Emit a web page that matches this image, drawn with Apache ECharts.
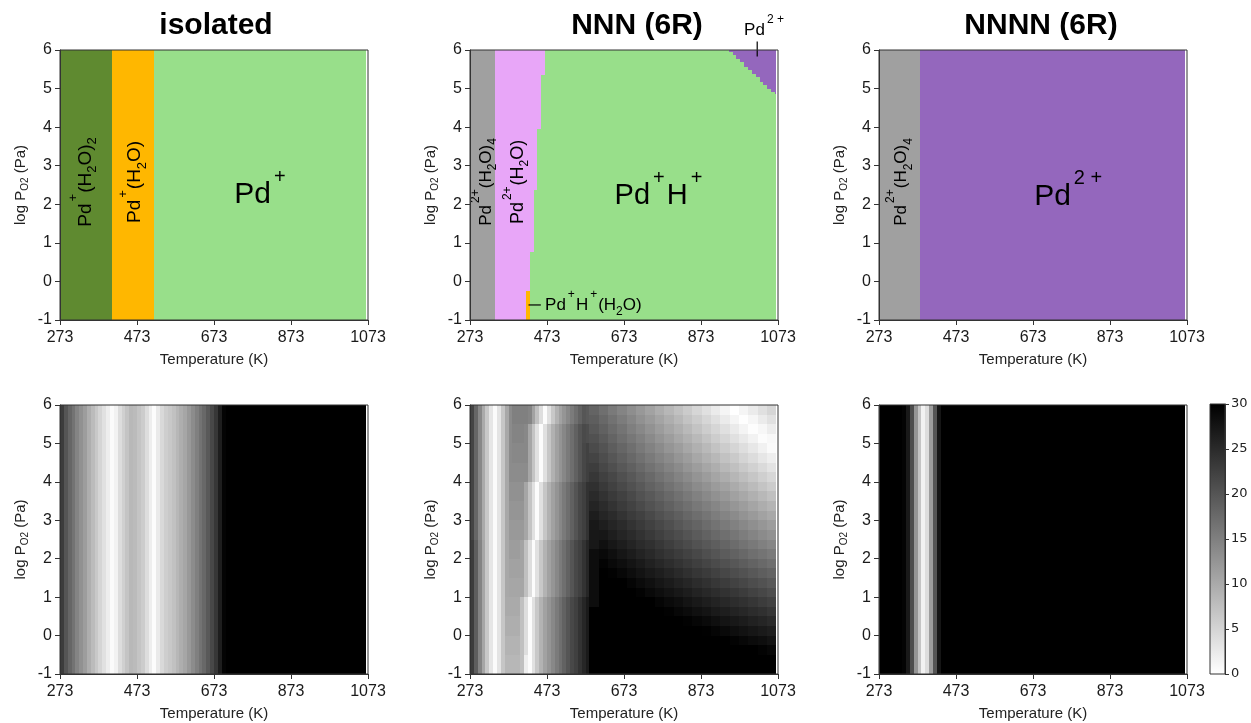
<!DOCTYPE html>
<html>
<head>
<meta charset="utf-8">
<script src="https://cdn.jsdelivr.net/npm/echarts@6/dist/echarts.min.js"></script>
<style>
  html, body { margin: 0; padding: 0; background: #fff; }
  #chart { width: 1251px; height: 723px; }
</style>
</head>
<body>
<div id="chart"></div>
<script>
// ---------- axes ----------
const tempTicks = [273, 473, 673, 873, 1073];          // Temperature (K)
const logPTicks = [-1, 0, 1, 2, 3, 4, 5, 6];            // log P_O2 (Pa)
const gapTicks  = [0, 5, 10, 15, 20, 25, 30];           // colour bar

// ---------- phase diagrams: [T from, T to, logP from, logP to, phase] ----------
const isolatedRegions = [
  [273, 408, -1, 6, 'PdH2O2'],
  [408, 518, -1, 6, 'PdH2O'],
  [518, 1069, -1, 6, 'Pd']
];
const nnnRegions = [
  [273, 339, -1, 6, 'Pd2H2O4'],
  [339, 419, -1, -0.25, 'Pd2H2O'],
  [419, 429, -1, -0.25, 'PdHH2O'],
  [339, 429, -0.25, 0.76, 'Pd2H2O'],
  [339, 439, 0.76, 2.36, 'Pd2H2O'],
  [339, 448, 2.36, 3.95, 'Pd2H2O'],
  [339, 458, 3.95, 5.34, 'Pd2H2O'],
  [339, 469, 5.34, 6, 'Pd2H2O'],
  [429, 1069, -1, 0.76, 'PdH'],
  [439, 1069, 0.76, 2.36, 'PdH'],
  [448, 1069, 2.36, 3.95, 'PdH'],
  [458, 1069, 3.95, 5.34, 'PdH'],
  [469, 1069, 5.34, 6, 'PdH']
];
// Pd2+ corner of the NNN diagram: column edges and lower boundary of each column
const nnnPd2Edges = [945, 955, 965, 975, 985, 995, 1005, 1015, 1025, 1035, 1045, 1055, 1065, 1069];
const nnnPd2Floor = [5.96, 5.87, 5.77, 5.68, 5.57, 5.48, 5.38, 5.29, 5.18, 5.09, 4.99, 4.90, 4.85];
const nnnnRegions = [
  [273, 379, -1, 6, 'Pd2H2O4'],
  [379, 1069, -1, 6, 'Pd2']
];

const phaseColors = {
  PdH2O2: '#5f8a30',
  PdH2O: '#ffb700',
  Pd: '#98df8a',
  PdH: '#98df8a',
  PdHH2O: '#ffb700',
  Pd2H2O4: '#a0a0a0',
  Pd2H2O: '#e8a6f8',
  Pd2: '#9467bd'
};

// ---------- energy gap maps (0 = white, 30 = black) ----------
// vertical strips: column edges in K, one gap value per column
const stripEdges = [273, 283, 293, 303, 313, 323, 333, 343, 353, 363, 373, 383, 393, 403, 413,
  423, 433, 443, 453, 463, 473, 483, 493, 503, 513, 523, 533, 543, 553, 563, 573, 583, 593,
  603, 613, 623, 633, 643, 653, 663, 673, 683, 693, 703, 1069];
const isolatedGap = [23, 20, 18, 16.5, 14.5, 13, 11.5, 9.5, 8, 6.5, 5, 3.5, 2, 0.5, 1.5, 4, 5.5,
  7, 8.4, 8, 7, 6, 4, 2, 0.4, 2.5, 4.5, 5.8, 6.5, 7.3, 8.5, 9.5, 10.5, 12, 13.5, 15, 16.5, 17.8,
  19.5, 21.5, 23.5, 26.5, 29.5, 30];
const nnnnGap = [30, 30, 30, 30, 30, 30, 29.5, 27, 21, 12.5, 7, 1.5, 4, 11.5, 20, 27.5,
  30, 30, 30, 30, 30, 30, 30, 30, 30, 30, 30, 30, 30, 30, 30, 30, 30, 30, 30, 30, 30, 30, 30,
  30, 30, 30, 30, 30];

// NNN map, low-temperature part (273-583 K): rows from log P = -1 upwards
const nnnLeftCols = [273, 283, 293, 303, 313, 323, 333, 343, 353, 363, 373, 383, 393, 403, 413,
  423, 433, 443, 453, 463, 473, 483, 493, 503, 513, 523, 533, 543, 553, 563, 573, 583];
const nnnLeftRows = [-1, -0.5, 0, 0.5, 1, 1.5, 2, 2.5, 3, 3.5, 4, 4.5, 5, 5.5, 6];
const nnnLeftGap = [
  [23,19,14.5,10.5,6.5,3,0.5, 3.2,6.7,8.5,8.5,8.5,8.5,7.4,2,0.4, 3.5,6.5,9,11,12.5,14,15.5,17,18.5,20,21.5,22.5,24,25.5,27],
  [23,19,14.5,10.5,6.5,3,0.5, 3.2,6.7,9,9,9,9,7.4,3.9,0.4, 3.5,6.5,9,11,12.5,14,15.5,17,18.5,20,21.5,22.5,24,25.5,27],
  [23,19,14.5,10.5,6.5,3,0.5, 3.2,6.7,9.5,9.5,9.5,9.5,7.4,3.9,0.4, 3.5,6.5,9,11,12.5,14,15.5,17,18.5,20,21.5,22.5,24,25.5,27],
  [23,19,14.5,10.5,6.5,3,0.5, 3.2,6.7,10,10,10,10,7.4,3.9,0.4, 3.5,6.5,9,11,12.5,14,15.5,17,18.5,20,21.5,22.5,24,25.5,27],
  [23,19,14.5,10.5,6.5,3,0.5, 3.2,6.7,10.2,10.5,10.5,10.5,10.5,7.4,3.9,0.4, 3.5,6.5,9,11,12.5,14,15.5,17,18.5,20,21.5,22.5,24,25.5],
  [23,19,14.5,10.5,6.5,3,0.5, 3.2,6.7,10.2,11,11,11,10.8,7.4,3.9,0.4, 3.5,6.5,9,11,12.5,14,15.5,17,18.5,20,21.5,22.5,24,25.5],
  [23,19,14.5,10.5,6.5,3,0.5, 3.2,6.7,10.2,11.5,11.5,11.5,10.8,7.4,3.9,0.4, 3.5,6.5,9,11,12.5,14,15.5,17,18.5,20,21.5,22.5,24,25.5],
  [22,18,14,10,6.5,3,0.5, 3.2,6.7,10.2,12,12,12,12,10.5,7,3.5,0.4, 3.7,6.7,9.2,11.1,12.6,14.1,15.6,17.1,18.6,20.1,21.6,22.6,24.1],
  [22,18,14,10,6.5,3,0.5, 3.2,6.7,10.2,12.5,12.5,12.5,12.5,10.5,7,3.5,0.4, 3.7,6.7,9.2,11.1,12.6,14.1,15.6,17.1,18.6,20.1,21.6,22.6,24.1],
  [22,18,14,10,6.5,3,0.5, 3.2,6.7,10.2,13,13,13,13,10.5,7,3.5,0.4, 3.7,6.7,9.2,11.1,12.6,14.1,15.6,17.1,18.6,20.1,21.6,22.6,24.1],
  [22,18,14,10,6.5,3,0.5, 3.2,6.7,10.2,13.5,13.5,13.5,13.5,13.5,10.5,7,3.5,0.4, 3.7,6.7,9.2,11.1,12.6,14.1,15.6,17.1,18.6,20.1,21.6,22.6],
  [22,18,14,10,6.5,3,0.5, 3.2,6.7,10.2,13.7,14,14,14,14,10.5,7,3.5,0.4, 3.7,6.7,9.2,11.1,12.6,14.1,15.6,17.1,18.6,20.1,21.6,22.4],
  [22,18,14,10,6.5,3,0.5, 3.2,6.7,10.2,13.7,14.5,14.5,14.5,14,10.5,7,3.5,0.4, 3.7,6.7,9.2,11.1,12.6,14.1,15.6,17.1,18.6,20.1,21.3,20.9],
  [22,18,14,10,6.5,3,0.5, 3.2,6.7,10.2,13.7,15,15,15,15,14.4,10.9,7.4,3.9,0.4, 3.5,6.5,9,11,12.5,14,15.5,17,18.5,19.9,19.4]
];
// NNN map, high-temperature part (583-1069 K): rows from log P = -1 upwards
const nnnRightCols = [583, 607.3, 631.6, 655.9, 680.2, 704.5, 728.8, 753.1, 777.4, 801.7, 826,
  850.3, 874.6, 898.9, 923.2, 947.5, 971.8, 996.1, 1020.4, 1044.7, 1069];
const nnnRightRows = [-1, -0.75, -0.5, -0.25, 0, 0.25, 0.5, 0.75, 1, 1.25, 1.5, 1.75, 2, 2.25,
  2.5, 2.75, 3, 3.25, 3.5, 3.75, 4, 4.25, 4.5, 4.75, 5, 5.25, 5.5, 5.75, 6];
const nnnRightGap = [
  [30,30,30,30,30,30,30,30,30,30,30,30,30,30,30,30,30,30,30,30],
  [30,30,30,30,30,30,30,30,30,30,30,30,30,30,30,30,30,30,30,30],
  [30,30,30,30,30,30,30,30,30,30,30,30,30,30,30,30,30,30,29.6,29.2],
  [30,30,30,30,30,30,30,30,30,30,30,30,30,30,30,29.7,29.2,28.7,28.3,27.8],
  [30,30,30,30,30,30,30,30,30,30,30,30,29.9,29.4,28.9,28.4,27.9,27.4,27.0,26.5],
  [30,30,30,30,30,30,30,30,30,30,29.8,29.3,28.8,28.2,27.7,27.2,26.7,26.1,25.6,25.1],
  [30,30,30,30,30,30,30,30,29.8,29.2,28.7,28.1,27.6,27.0,26.5,25.9,25.4,24.8,24.3,23.7],
  [28.5,30,30,30,30,30,30,29.4,28.8,28.3,27.7,27.1,26.5,25.9,25.3,24.7,24.2,23.6,23.0,22.4],
  [28.5,30,30,30,30,29.6,29.0,28.4,27.8,27.2,26.6,25.9,25.3,24.7,24.1,23.5,22.9,22.2,21.6,21.0],
  [28.5,30,30,30,29.4,28.7,28.1,27.4,26.8,26.1,25.5,24.8,24.2,23.5,22.9,22.2,21.6,20.9,20.3,19.7],
  [28.5,30,29.8,29.2,28.5,27.8,27.1,26.5,25.8,25.1,24.4,23.7,23.1,22.4,21.7,21.0,20.3,19.7,19.0,18.3],
  [28.5,29.7,29.0,28.3,27.6,26.9,26.1,25.4,24.7,24.0,23.3,22.6,21.9,21.2,20.5,19.8,19.1,18.4,17.6,16.9],
  [28.5,28.9,28.2,27.4,26.7,25.9,25.2,24.4,23.7,23.0,22.2,21.5,20.7,20.0,19.2,18.5,17.8,17.0,16.3,15.6],
  [27.2,28.1,27.3,26.6,25.8,25.0,24.3,23.5,22.7,21.9,21.2,20.4,19.6,18.9,18.1,17.3,16.5,15.8,15.0,14.2],
  [27.2,27.3,26.5,25.7,24.9,24.1,23.3,22.5,21.7,20.9,20.1,19.3,18.5,17.7,16.9,16.1,15.3,14.5,13.7,12.9],
  [27.2,26.5,25.7,24.9,24.0,23.2,22.4,21.5,20.7,19.8,19.0,18.2,17.3,16.5,15.7,14.8,14.0,13.2,12.3,11.5],
  [26.6,25.7,24.9,24.0,23.1,22.3,21.4,20.5,19.7,18.8,17.9,17.1,16.2,15.3,14.5,13.6,12.7,11.9,11.0,10.1],
  [25.8,24.9,24.0,23.1,22.2,21.3,20.4,19.5,18.6,17.7,16.8,15.9,15.1,14.2,13.3,12.4,11.5,10.6,9.7,8.8],
  [25.1,24.1,23.2,22.3,21.4,20.4,19.5,18.6,17.6,16.7,15.8,14.8,13.9,13.0,12.1,11.1,10.2,9.3,8.3,7.4],
  [24.3,23.3,22.4,21.4,20.5,19.5,18.5,17.6,16.6,15.7,14.7,13.7,12.8,11.8,10.9,9.9,8.9,8.0,7.0,6.0],
  [23.5,22.5,21.6,20.6,19.6,18.6,17.6,16.6,15.6,14.6,13.6,12.6,11.6,10.6,9.6,8.6,7.6,6.7,5.7,4.7],
  [22.8,21.7,20.7,19.7,18.7,17.7,16.6,15.6,14.6,13.6,12.5,11.5,10.5,9.5,8.4,7.4,6.4,5.4,4.3,3.3],
  [22.0,20.9,19.9,18.8,17.8,16.7,15.7,14.6,13.6,12.5,11.5,10.4,9.3,8.3,7.2,6.2,5.1,4.1,3.0,2.0],
  [21.2,20.2,19.1,18.0,16.9,15.8,14.7,13.6,12.5,11.5,10.4,9.3,8.2,7.1,6.0,4.9,3.9,2.8,1.7,0.6],
  [20.5,19.4,18.2,17.1,16.0,14.9,13.8,12.6,11.5,10.4,9.3,8.2,7.1,5.9,4.8,3.7,2.6,1.5,0.4,0.8],
  [19.7,18.6,17.4,16.3,15.1,14.0,12.8,11.7,10.5,9.4,8.2,7.1,5.9,4.8,3.6,2.5,1.3,0.2,1.0,2.1],
  [18.9,17.8,16.6,15.4,14.2,13.0,11.9,10.7,9.5,8.3,7.1,6.0,4.8,3.6,2.4,1.2,0.1,1.1,2.3,3.5],
  [18.2,17.0,15.7,14.5,13.3,12.1,10.9,9.7,8.5,7.3,6.1,4.8,3.6,2.4,1.2,0.0,1.2,2.4,3.6,4.8]
];

// ---------- region labels (anchored in T / log P) ----------
const isolatedLabels = [
  { at: [339, 2.58], kind: 'tall', text: '{m|Pd}{sup|+}{m|(H}{sub|2}{m|O)}{sub|2}' },
  { at: [467, 2.58], kind: 'tall', text: '{m|Pd}{sup|+}{m|(H}{sub|2}{m|O)}' },
  { at: [795, 2.24], kind: 'big',  text: '{m|Pd}{sup|+}' }
];
const nnnLabels = [
  { at: [315, 2.58], kind: 'tallS', text: '{m|Pd}{sup|2+}{m|(H}{sub|2}{m|O)}{sub|4}' },
  { at: [398, 2.58], kind: 'tallM', text: '{m|Pd}{sup|2+}{m|(H}{sub|2}{m|O)}' },
  { at: [765, 2.21], kind: 'bigS',  text: '{m|Pd}{sup|+}{m|H}{sup|+}' },
  { at: [468, -0.61], kind: 'note', text: '{m|Pd}{sup|+}{m|H}{sup|+}{m|(H}{sub|2}{m|O)}' },
  { at: [1038, 6.52], kind: 'noteC', text: '{m|Pd}{sup|2 +}' }
];
const nnnLeaders = [
  [[425, -0.61], [457, -0.61]],
  [[1019, 6.22], [1019, 5.83]]
];
const nnnnLabels = [
  { at: [331, 2.58], kind: 'tallS', text: '{m|Pd}{sup|2+}{m|(H}{sub|2}{m|O)}{sub|4}' },
  { at: [767, 2.2],  kind: 'big',   text: '{m|Pd}{sup|2 +}' }
];

const panelTitles = ['isolated', 'NNN (6R)', 'NNNN (6R)'];

// ---------- styling ----------
const FONT = 'Liberation Sans';
const INK = '#1a1a1a';
const FRAME = '#333';
const labelKinds = {
  tall:  { size: 19, rotate: 90, align: 'center' },
  tallM: { size: 18, rotate: 90, align: 'center' },
  tallS: { size: 17, rotate: 90, align: 'center' },
  big:   { size: 30, rotate: 0, align: 'center' },
  bigS:  { size: 29, rotate: 0, align: 'center' },
  note:  { size: 17, rotate: 0, align: 'left' },
  noteC: { size: 17, rotate: 0, align: 'center' }
};
function richFor(size) {
  const s = Math.round(size * 0.68);
  return {
    m:   { fontSize: size, fontFamily: FONT, lineHeight: Math.round(size * 1.8), fill: '#000' },
    sup: { fontSize: s, fontFamily: FONT, height: Math.round(size * 0.6), verticalAlign: 'top', fill: '#000',
           padding: [0, Math.round(size * 0.06), 0, Math.round(size * 0.1)] },
    sub: { fontSize: s, fontFamily: FONT, height: Math.round(size * 1.0), verticalAlign: 'bottom', fill: '#000' }
  };
}

// panel frames (px)
const panelBoxes = [
  { left: 60,  top: 50,  width: 308, height: 270 },
  { left: 470, top: 50,  width: 308, height: 270 },
  { left: 879, top: 50,  width: 308, height: 270 },
  { left: 60,  top: 405, width: 308, height: 269 },
  { left: 470, top: 405, width: 308, height: 269 },
  { left: 879, top: 405, width: 308, height: 269 },
  { left: 1210, top: 404, width: 15, height: 270 }
];
const titleCenters = [216, 637, 1041];

// ---------- helpers ----------
function rectItem(api, t0, t1, p0, p1, fill) {
  const a = api.coord([t0, p1]);
  const b = api.coord([t1, p0]);
  const x0 = Math.round(a[0]), x1 = Math.round(b[0]);
  const y0 = Math.round(a[1]), y1 = Math.round(b[1]);
  return { type: 'rect', shape: { x: x0, y: y0, width: x1 - x0, height: y1 - y0 }, style: { fill: fill } };
}
function phaseSeries(idx, regions) {
  return {
    type: 'custom', xAxisIndex: idx, yAxisIndex: idx, silent: true, clip: false, z: 2,
    encode: { x: [0, 1], y: [2, 3] },
    data: regions.map(r => [r[0], r[1], r[2], r[3]]),
    renderItem: (params, api) => rectItem(api, api.value(0), api.value(1), api.value(2), api.value(3),
      phaseColors[regions[params.dataIndex][4]])
  };
}
function heatSeries(idx, cells) {
  return {
    type: 'custom', xAxisIndex: idx, yAxisIndex: idx, silent: true, clip: false, z: 2,
    encode: { x: [0, 1], y: [2, 3] },
    data: cells,
    renderItem: (params, api) => rectItem(api, api.value(0), api.value(1), api.value(2), api.value(3),
      api.visual('color'))
  };
}
function labelSeries(idx, labels) {
  return {
    type: 'custom', xAxisIndex: idx, yAxisIndex: idx, silent: true, clip: false, z: 4,
    encode: { x: 0, y: 1 },
    data: labels.map(l => [l.at[0], l.at[1]]),
    renderItem: (params, api) => {
      const l = labels[params.dataIndex];
      const k = labelKinds[l.kind];
      const p = api.coord([api.value(0), api.value(1)]);
      return {
        type: 'text', x: p[0], y: p[1], rotation: k.rotate * Math.PI / 180,
        style: { text: l.text, rich: richFor(k.size), fontSize: k.size, fontFamily: FONT,
                 fill: '#000', align: k.align, verticalAlign: 'middle' }
      };
    }
  };
}
function leaderSeries(idx, lines) {
  return {
    type: 'custom', xAxisIndex: idx, yAxisIndex: idx, silent: true, clip: false, z: 4,
    encode: { x: [0, 2], y: [1, 3] },
    data: lines.map(l => [l[0][0], l[0][1], l[1][0], l[1][1]]),
    renderItem: (params, api) => {
      const a = api.coord([api.value(0), api.value(1)]);
      const b = api.coord([api.value(2), api.value(3)]);
      return { type: 'line', shape: { x1: a[0], y1: a[1], x2: b[0], y2: b[1] },
               style: { stroke: '#000', lineWidth: 1.2 } };
    }
  };
}
function stripCells(edges, gaps) {
  return gaps.map((g, i) => [edges[i], edges[i + 1], logPTicks[0], logPTicks[logPTicks.length - 1], g]);
}
function gridCells(cols, rows, values) {
  const cells = [];
  values.forEach((row, j) => row.forEach((g, i) => cells.push([cols[i], cols[i + 1], rows[j], rows[j + 1], g])));
  return cells;
}
const nnnPd2Regions = nnnPd2Floor.map((f, i) => [nnnPd2Edges[i], nnnPd2Edges[i + 1], f, 6, 'Pd2']);

// ---------- option ----------
const grid = panelBoxes.map(b => Object.assign({
  show: true, borderColor: FRAME, borderWidth: 1, z: 5, containLabel: false, outerBoundsMode: 'none'
}, b));

const plainNumber = v => String(v);
const xAxis = [], yAxis = [];
for (let i = 0; i < 6; i++) {
  xAxis.push({
    gridIndex: i, type: 'value', z: 6,
    min: tempTicks[0], max: tempTicks[tempTicks.length - 1], interval: tempTicks[1] - tempTicks[0],
    axisLine: { show: true, onZero: false, lineStyle: { color: FRAME, width: 1 } },
    axisTick: { show: true, length: 5, lineStyle: { color: FRAME } },
    axisLabel: { fontSize: 16, fontFamily: FONT, color: INK, margin: 10, formatter: plainNumber },
    splitLine: { show: false },
    name: 'Temperature (K)', nameLocation: 'middle', nameGap: 32,
    nameTextStyle: { fontSize: 15, fontFamily: FONT, color: '#222' }
  });
  yAxis.push({
    gridIndex: i, type: 'value', z: 6,
    min: logPTicks[0], max: logPTicks[logPTicks.length - 1], interval: 1,
    axisLine: { show: true, onZero: false, lineStyle: { color: FRAME, width: 1 } },
    axisTick: { show: true, length: 5, lineStyle: { color: FRAME } },
    axisLabel: { fontSize: 16, fontFamily: FONT, color: INK, margin: 8, formatter: plainNumber },
    splitLine: { show: false },
    name: '{m|log P}{s|O2}{m| (Pa)}', nameLocation: 'middle', nameGap: 30, nameRotate: 90,
    nameTextStyle: {
      rich: {
        m: { fontSize: 15, fontFamily: FONT, color: '#222', lineHeight: 18 },
        s: { fontSize: 10, fontFamily: FONT, color: '#222', verticalAlign: 'bottom', height: 10 }
      }
    }
  });
}
// colour bar axes
xAxis.push({ gridIndex: 6, type: 'value', min: 0, max: 1, show: false });
yAxis.push({
  gridIndex: 6, type: 'value', position: 'right', z: 6,
  min: gapTicks[0], max: gapTicks[gapTicks.length - 1], interval: gapTicks[1] - gapTicks[0],
  axisLine: { show: true, onZero: false, lineStyle: { color: FRAME, width: 1 } },
  axisTick: { show: true, length: 4, lineStyle: { color: FRAME } },
  axisLabel: { fontSize: 13, fontFamily: 'DejaVu Sans', color: '#222', margin: 6 },
  splitLine: { show: false }
});

const series = [
  phaseSeries(0, isolatedRegions),
  phaseSeries(1, nnnRegions.concat(nnnPd2Regions)),
  phaseSeries(2, nnnnRegions),
  labelSeries(0, isolatedLabels),
  labelSeries(1, nnnLabels),
  labelSeries(2, nnnnLabels),
  leaderSeries(1, nnnLeaders),
  heatSeries(3, stripCells(stripEdges, isolatedGap)),
  heatSeries(4, gridCells(nnnLeftCols, nnnLeftRows, nnnLeftGap)
                  .concat(gridCells(nnnRightCols, nnnRightRows, nnnRightGap))),
  heatSeries(5, stripCells(stripEdges, nnnnGap)),
  {
    type: 'custom', xAxisIndex: 6, yAxisIndex: 6, silent: true, clip: false, z: 2,
    encode: { x: [0, 1], y: [2, 3] },
    data: [[0, 1, gapTicks[0], gapTicks[gapTicks.length - 1]]],
    renderItem: (params, api) => rectItem(api, api.value(0), api.value(1), api.value(2), api.value(3),
      new echarts.graphic.LinearGradient(0, 0, 0, 1, [
        { offset: 0, color: '#000000' }, { offset: 1, color: '#ffffff' }
      ]))
  }
];

const option = {
  animation: false,
  backgroundColor: '#ffffff',
  textStyle: { fontFamily: FONT },
  grid: grid,
  xAxis: xAxis,
  yAxis: yAxis,
  visualMap: [{
    type: 'continuous', show: false, dimension: 4, seriesIndex: [7, 8, 9],
    min: gapTicks[0], max: gapTicks[gapTicks.length - 1],
    inRange: { color: ['#ffffff', '#000000'] }
  }],
  graphic: panelTitles.map((t, i) => ({
    type: 'text', x: titleCenters[i], y: 26, silent: true,
    style: { text: t, fontSize: 30, fontWeight: 'bold', fontFamily: FONT, fill: '#000',
             align: 'center', verticalAlign: 'middle' }
  })),
  series: series
};

const chart = echarts.init(document.getElementById('chart'), null, { renderer: 'canvas' });
chart.setOption(option);
</script>
</body>
</html>
